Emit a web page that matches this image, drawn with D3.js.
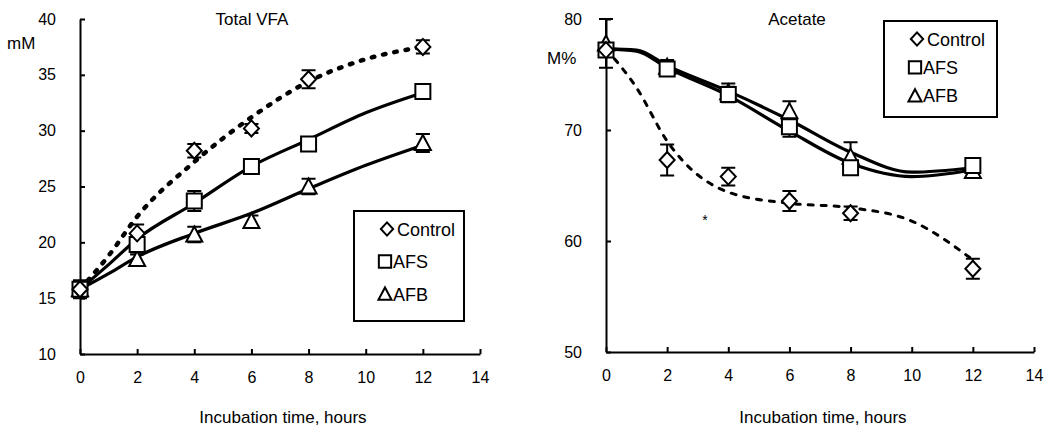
<!DOCTYPE html>
<html>
<head>
<meta charset="utf-8">
<script src="https://cdn.jsdelivr.net/npm/d3@7"></script>
<style>
  body { margin: 0; background: #fff; }
  svg text { font-family: "Liberation Sans", Arial, sans-serif; fill: #000; }
</style>
</head>
<body>
<svg id="chart" width="1059" height="427"></svg>
<script>
// data
const hours = [0, 2, 4, 6, 8, 12];
const fitHours = [0, 1, 2, 4, 6, 8, 10, 12];
const seriesNames = ["Control", "AFS", "AFB"];
const xTicks = [0, 2, 4, 6, 8, 10, 12, 14];

// Total VFA, mM
const vfaControl = [15.8, 20.8, 28.2, 30.2, 34.6, 37.5];
const vfaAFS     = [15.8, 19.8, 23.7, 26.8, 28.8, 33.5];
const vfaAFB     = [15.8, 18.5, 20.7, 21.9, 25.0, 28.9];
const vfaControlErr = [0.4, 0.8, 0.6, 0.4, 0.8, 0.6];
const vfaAFSErr     = [0.8, 0.7, 0.9, 0.5, 0.4, 0.6];
const vfaAFBErr     = [0.4, 0.4, 0.7, 0.5, 0.7, 0.8];
const vfaControlFit = [15.8, 18.8, 22.3, 27.2, 31.2, 34.4, 36.4, 37.5];
const vfaAFSFit     = [15.8, 18.0, 20.3, 23.5, 26.8, 29.2, 31.6, 33.4];
const vfaAFBFit     = [15.8, 17.2, 18.7, 20.8, 22.6, 24.8, 26.9, 28.7];
const vfaTicks = [10, 15, 20, 25, 30, 35, 40];

// Acetate, M%
const acControl = [77.2, 67.3, 65.8, 63.6, 62.5, 57.5];
const acAFS     = [77.2, 75.5, 73.2, 70.3, 66.6, 66.8];
const acAFB     = [77.8, 75.7, 73.4, 71.7, 67.6, 66.3];
const acControlErr = [0.5, 1.4, 0.8, 0.9, 0.6, 0.9];
const acAFSErr     = [0.6, 0.5, 0.7, 0.9, 0.6, 0.5];
const acAFBErr     = [2.2, 0.6, 0.8, 0.9, 1.3, 0.5];
const acControlFit = [77.3, 73.8, 69.0, 64.4, 63.4, 63.0, 61.8, 58.3];
const acAFSFit     = [77.3, 77.1, 75.6, 73.1, 69.9, 67.0, 65.8, 66.4];
const acAFBFit     = [77.3, 77.2, 75.8, 73.5, 70.9, 68.0, 66.2, 66.6];
const acTicks = [50, 60, 70, 80];

const svg = d3.select("#chart");

const panels = [
  {title: "Total VFA", unit: "mM", x0: 80, x1: 480, y0: 354, y1: 19, yDomain: [10, 40], yTicks: vfaTicks,
   titleX: 252, unitX: 7, unitY: 49,
   values: [vfaControl, vfaAFS, vfaAFB], errs: [vfaControlErr, vfaAFSErr, vfaAFBErr],
   fits: [vfaControlFit, vfaAFSFit, vfaAFBFit],
   legend: {x: 354, y: 211, w: 110, h: 110}, dash: "2.5,9", dashWidth: 4.5},
  {title: "Acetate", unit: "M%", x0: 606, x1: 1034, y0: 352, y1: 19, yDomain: [50, 80], yTicks: acTicks,
   titleX: 797, unitX: 547, unitY: 64,
   values: [acControl, acAFS, acAFB], errs: [acControlErr, acAFSErr, acAFBErr],
   fits: [acControlFit, acAFSFit, acAFBFit],
   legend: {x: 884, y: 21, w: 113, h: 96}, dash: "5,8", dashWidth: 3}
];

// hollow marker outlines: diamond, square, triangle
function markerPath(i, s) {
  if (i == 0) return `M0,${-8 * s}L${7.5 * s},0L0,${8 * s}L${-7.5 * s},0Z`;
  if (i == 1) return `M${-7.5 * s},${-7.5 * s}h${15 * s}v${15 * s}h${-15 * s}Z`;
  return `M0,${-8 * s}L${8 * s},${7 * s}H${-8 * s}Z`;
}

function marker(g, i, x, y, s) {
  g.append("path")
    .attr("d", markerPath(i, s || 1))
    .attr("transform", `translate(${x},${y})`)
    .attr("fill", "#fff")
    .attr("stroke", "#000")
    .attr("stroke-width", 2);
}

panels.forEach(function(p) {
  const x = d3.scaleLinear().domain([0, 14]).range([p.x0, p.x1]);
  const y = d3.scaleLinear().domain(p.yDomain).range([p.y0, p.y1]);
  const g = svg.append("g");

  // axes
  g.append("g")
    .attr("transform", `translate(0,${p.y0})`)
    .call(d3.axisBottom(x).tickValues(xTicks).tickSizeInner(-5).tickSizeOuter(0).tickPadding(18))
    .call(a => a.select(".domain").attr("stroke-width", 2))
    .call(a => a.selectAll(".tick line").attr("stroke-width", 2))
    .call(a => a.selectAll(".tick text").style("font-size", "16px").attr("font-family", null));
  g.append("g")
    .attr("transform", `translate(${p.x0},0)`)
    .call(d3.axisLeft(y).tickValues(p.yTicks).tickSizeInner(-5).tickSizeOuter(0).tickPadding(24))
    .call(a => a.select(".domain").attr("stroke-width", 2))
    .call(a => a.selectAll(".tick line").attr("stroke-width", 2))
    .call(a => a.selectAll(".tick text").style("font-size", "16px").attr("font-family", null));

  g.append("text").attr("x", p.titleX).attr("y", 25).attr("text-anchor", "middle")
    .style("font-size", "17px").text(p.title);
  g.append("text").attr("x", p.unitX).attr("y", p.unitY).style("font-size", "17px").text(p.unit);
  g.append("text").attr("x", (p.x0 + p.x1) / 2 + 3).attr("y", 423).attr("text-anchor", "middle")
    .style("font-size", "17px").text("Incubation time, hours");

  // fitted curves
  const line = d3.line().x((d, i) => x(fitHours[i])).y(d => y(d)).curve(d3.curveMonotoneX);
  p.fits.forEach(function(f, i) {
    g.append("path").attr("d", line(f)).attr("fill", "none").attr("stroke", "#000")
      .attr("stroke-width", i == 0 ? p.dashWidth : 3.2)
      .attr("stroke-linecap", i == 0 ? "round" : "butt")
      .attr("stroke-dasharray", i == 0 ? p.dash : null);
  });

  // error bars and markers
  p.values.forEach(function(vals, i) {
    vals.forEach(function(v, j) {
      const e = p.errs[i][j], cx = x(hours[j]);
      g.append("path")
        .attr("d", `M${cx - 7},${y(v + e)}H${cx + 7}M${cx},${y(v + e)}V${y(v - e)}M${cx - 7},${y(v - e)}H${cx + 7}`)
        .attr("fill", "none").attr("stroke", "#000").attr("stroke-width", 2);
    });
  });
  [2, 1, 0].forEach(function(i) {
    p.values[i].forEach(function(v, j) { marker(g, i, x(hours[j]), y(v)); });
  });

  // legend
  const L = p.legend;
  g.append("rect").attr("x", L.x).attr("y", L.y).attr("width", L.w).attr("height", L.h)
    .attr("fill", "#fff").attr("stroke", "#000").attr("stroke-width", 2);
  seriesNames.forEach(function(n, i) {
    const ly = L.y + 18 + i * 32.5 * L.h / 110;
    marker(g, i, L.x + (i == 0 ? 33 : 31), ly, 0.82);
    g.append("text").attr("x", L.x + (i == 0 ? 43 : 39)).attr("y", ly + 6.5).style("font-size", "18px").text(n);
  });
});

// significance mark on acetate panel
svg.append("text").attr("x", 705).attr("y", 225).attr("text-anchor", "middle")
  .style("font-size", "14px").text("*");
</script>
</body>
</html>
